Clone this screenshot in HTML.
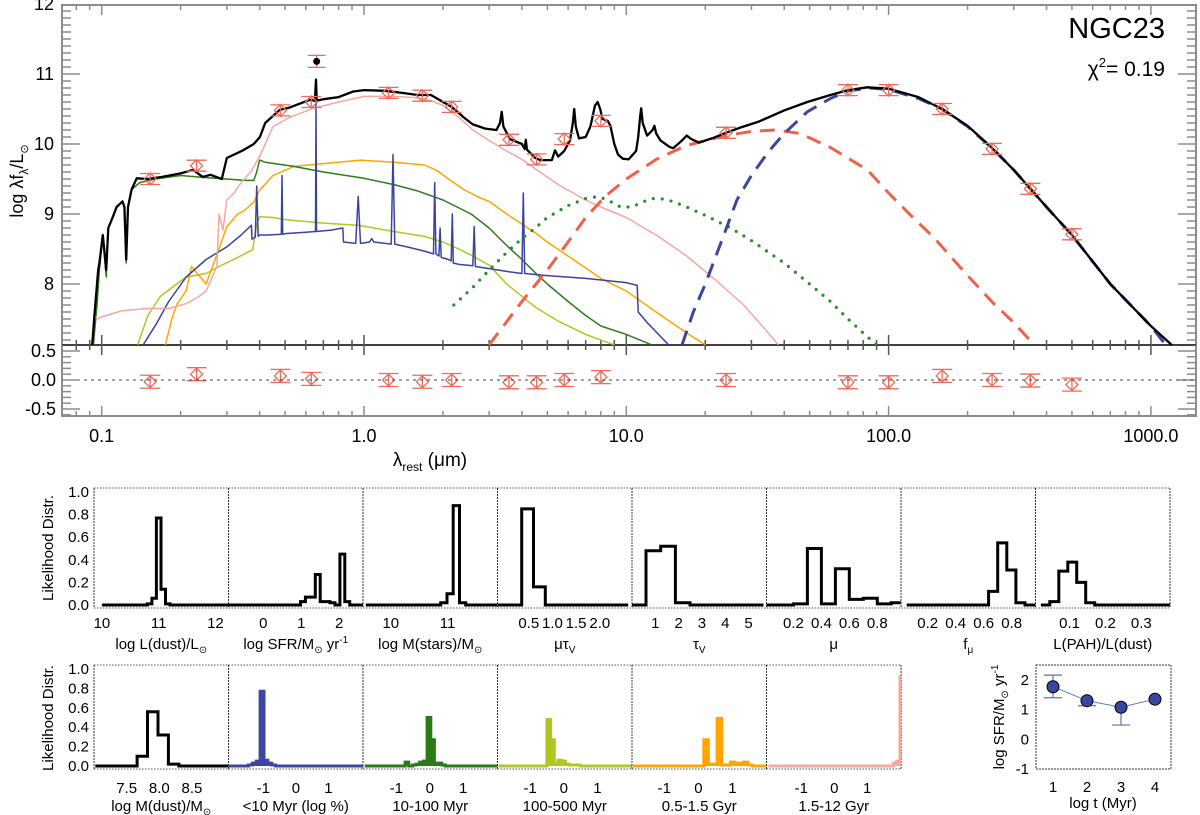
<!DOCTYPE html>
<html><head><meta charset="utf-8"><title>NGC23 SED fit</title>
<style>
html,body{margin:0;padding:0;background:#fff;}
svg{display:block;font-family:"Liberation Sans",Arial,sans-serif;}
</style></head>
<body>
<svg id="chart" xmlns="http://www.w3.org/2000/svg" width="1200" height="815" viewBox="0 0 1200 815">
  <defs>
    <clipPath id="mainClip"><rect x="62" y="5" width="1134" height="340"/></clipPath>
    <clipPath id="resClip"><rect x="62" y="345" width="1134" height="71"/></clipPath>
  </defs>
  <rect x="0" y="0" width="1200" height="815" fill="#fff"/>
  <g id="sedPanel"></g>
  <g id="resPanel"></g>
  <g id="histPanels"></g>
  <g id="sfhPanel"></g>

  <text x="1165" y="38" font-size="29" text-anchor="end">NGC23</text>
  <text x="1165" y="76" font-size="21" text-anchor="end">χ<tspan font-size="13" dy="-9">2</tspan><tspan dy="9">= 0.19</tspan></text>
  <text transform="translate(23,181) rotate(-90)" font-size="18" text-anchor="middle">log λf<tspan font-size="12" dy="5">λ</tspan><tspan dy="-5">/L</tspan><tspan font-size="11" dy="5">⊙</tspan></text>
  <text x="430" y="466" font-size="19" text-anchor="middle">λ<tspan font-size="12" dy="5">rest</tspan><tspan dy="-5"> (μm)</tspan></text>
  <text transform="translate(53,548) rotate(-90)" font-size="15" text-anchor="middle">Likelihood Distr.</text>
  <text transform="translate(53,718) rotate(-90)" font-size="15" text-anchor="middle">Likelihood Distr.</text>
  <text transform="translate(1004,717) rotate(-90)" font-size="15" text-anchor="middle">log SFR/M<tspan font-size="10" dy="4">⊙</tspan><tspan dy="-4"> yr</tspan><tspan font-size="10" dy="-6">-1</tspan></text>
  <text x="1103" y="808" font-size="15" text-anchor="middle">log t (Myr)</text>
</svg>
<script>
// ===== SED data (wavelength in micron, log lambda*f_lambda / Lsun) =====
const totalWave=[0.092,0.094,0.097,0.098,0.101,0.104,0.106,0.11,0.114,0.12,0.122,0.124,0.126,0.13,0.136,0.15,0.17,0.2,0.223,0.243,0.26,0.287,0.3,0.346,0.38,0.401,0.42,0.478,0.52,0.62,0.65,0.656,0.66,0.7,0.8,0.91,1.0,1.2,1.4,1.6,1.8,2.0,2.16,2.4,2.6,2.9,3.2,3.3,3.35,3.4,3.6,4.0,4.1,4.14,4.18,4.5,4.7,5.2,5.35,5.5,5.8,6.1,6.25,6.33,6.42,6.6,7.0,7.3,7.6,7.77,7.95,8.1,8.5,8.7,9.0,9.3,9.7,10.2,10.9,11.1,11.3,11.4,11.55,12.0,12.6,12.8,13.0,13.5,14.6,15.1,16.3,17.0,17.7,18.9,21.2,24,27,32,40,49,60,70,83,100,130,160,200,250,300,400,500,700,1000,1200];
const totalFlux=[7.13,7.6,8.2,8.3,8.7,8.2,8.8,8.95,9.1,9.18,9.1,8.35,9.1,9.35,9.51,9.5,9.53,9.58,9.63,9.53,9.56,9.5,9.8,9.91,10.0,10.1,10.3,10.49,10.52,10.63,10.62,10.92,10.62,10.64,10.67,10.75,10.77,10.76,10.73,10.7,10.7,10.6,10.53,10.38,10.28,10.22,10.2,10.3,10.46,10.25,10.07,10.0,9.93,10.06,9.92,9.8,9.77,9.77,9.91,9.82,9.9,10.05,10.3,10.5,10.25,10.08,10.1,10.25,10.55,10.6,10.5,10.36,10.33,10.26,10.0,9.85,9.79,9.78,9.9,10.1,10.4,10.51,10.3,10.12,10.2,10.26,10.15,10.05,9.96,9.94,10.05,10.12,10.07,10.02,10.08,10.16,10.23,10.32,10.48,10.6,10.7,10.77,10.81,10.79,10.67,10.5,10.26,9.93,9.63,9.1,8.7,8.0,7.4,7.13];
const attenStarWave=[0.092,0.094,0.096,0.1,0.12,0.15,0.18,0.21,0.23,0.25,0.275,0.28,0.29,0.3,0.32,0.34,0.37,0.4,0.45,0.52,0.64,0.8,1.0,1.3,1.6,1.8,2.0,2.3,2.6,3.0,3.5,4.0,4.56,5.5,7.0,8.0,10,13,17,22,28,33,38];
const attenStarFlux=[7.13,7.55,7.5,7.53,7.62,7.65,7.65,7.72,7.8,7.9,8.25,9.0,8.77,9.2,9.3,9.45,9.6,9.82,10.25,10.38,10.51,10.6,10.68,10.68,10.66,10.62,10.55,10.38,10.2,10.05,9.9,9.78,9.63,9.42,9.2,9.1,8.95,8.7,8.4,8.05,7.7,7.4,7.13];
const oldStarWave=[0.093,0.096,0.098,0.101,0.104,0.106,0.11,0.114,0.12,0.122,0.124,0.126,0.13,0.14,0.16,0.2,0.25,0.3,0.35,0.38,0.39,0.4,0.42,0.54,0.7,1.0,1.3,1.6,2.0,2.56,3.0,3.5,4.0,4.5,5,6,7,8,10,12.5];
const oldStarFlux=[7.13,7.7,8.2,8.7,8.1,8.8,8.95,9.1,9.18,9.1,8.3,9.1,9.35,9.45,9.5,9.55,9.52,9.5,9.48,9.48,9.6,9.77,9.74,9.68,9.6,9.51,9.42,9.33,9.2,9.0,8.8,8.55,8.35,8.16,8.0,7.75,7.55,7.4,7.28,7.13];
const midStarWave=[0.175,0.185,0.194,0.21,0.22,0.25,0.28,0.3,0.33,0.35,0.38,0.4,0.45,0.54,0.7,0.97,1.3,1.7,1.9,2.1,2.4,2.7,3.0,3.5,4.5,5,6,8,10,13,17,20];
const midStarFlux=[7.13,7.5,7.72,7.9,8.25,8.0,8.5,8.82,9.0,9.05,9.17,9.34,9.55,9.68,9.72,9.77,9.74,9.7,9.62,9.5,9.35,9.25,9.18,9.0,8.73,8.6,8.4,8.08,7.9,7.6,7.3,7.13];
const interStarWave=[0.137,0.15,0.167,0.19,0.21,0.25,0.28,0.33,0.376,0.39,0.4,0.45,0.5,0.7,0.95,1.3,1.7,2.0,2.3,2.6,3.0,3.5,4.5,5.5,7,9];
const interStarFlux=[7.13,7.55,7.82,7.98,8.1,8.15,8.25,8.38,8.49,8.85,8.96,8.95,8.92,8.87,8.84,8.75,8.68,8.6,8.5,8.4,8.27,8.0,7.67,7.47,7.28,7.13];
const youngStarWave=[0.144,0.162,0.18,0.21,0.25,0.3,0.34,0.372,0.374,0.385,0.39,0.395,0.4,0.43,0.484,0.487,0.49,0.5,0.6,0.653,0.656,0.659,0.75,0.83,0.835,0.93,0.95,0.97,1.05,1.07,1.09,1.27,1.29,1.31,1.5,1.7,1.84,1.86,1.88,1.93,1.95,1.97,2.1,2.15,2.17,2.19,2.3,2.6,2.63,2.66,3.0,3.5,4.0,4.05,4.1,5,7,10,11,11.1,12,14.5];
const youngStarFlux=[7.13,7.44,7.75,8.1,8.35,8.53,8.7,8.84,8.64,8.67,9.4,8.68,8.7,8.7,8.71,9.55,8.71,8.72,8.74,8.75,10.6,8.75,8.77,8.8,8.6,8.58,9.25,8.58,8.6,8.65,8.6,8.57,9.85,8.57,8.52,8.47,8.43,9.45,8.43,8.4,8.8,8.38,8.35,8.33,9.0,8.3,8.28,8.26,8.82,8.25,8.22,8.18,8.15,9.3,8.15,8.12,8.08,8.02,7.98,7.6,7.45,7.13];
const pahWave=[2.2,2.6,3,3.5,4,4.5,5,6,7,7.8,8.5,9.5,10.5,11.5,12.5,13.5,15,17,20,25,30,40,50,60,70,80,90];
const pahFlux=[7.7,7.95,8.2,8.45,8.65,8.8,8.95,9.12,9.22,9.25,9.2,9.1,9.1,9.17,9.22,9.22,9.18,9.1,8.98,8.8,8.62,8.3,8.0,7.75,7.5,7.3,7.13];
const warmDustWave=[3.0,4,5,6,7,8.3,10,13,17,24,30,37,46,60,83,100,120,150,200,250,300,345,360];
const warmDustFlux=[7.13,7.75,8.2,8.6,8.95,9.25,9.5,9.78,9.98,10.12,10.18,10.2,10.15,9.95,9.63,9.3,9.0,8.65,8.12,7.73,7.45,7.2,7.13];
const coldDustWave=[16.3,18,20,23,26.4,30,35,40,49,60,70,85,100,130,160,200,250,300,400,500,700,1000,1140];
const coldDustFlux=[7.13,7.6,8.0,8.6,9.2,9.55,9.9,10.15,10.46,10.65,10.76,10.8,10.78,10.65,10.5,10.25,9.93,9.63,9.1,8.7,8.0,7.4,7.13];
// photometry
const obsWave=[0.153,0.23,0.48,0.63,1.24,1.67,2.16,3.57,4.55,5.8,8.0,24.0,70,100,160,248,347,500];
const obsFlux=[9.50,9.69,10.48,10.60,10.73,10.69,10.53,10.06,9.78,10.07,10.33,10.16,10.77,10.77,10.50,9.93,9.36,8.71];
const obsResid=[-0.03,0.10,0.07,0.02,0.0,-0.03,0.0,-0.04,-0.04,0.0,0.05,0.0,-0.04,-0.04,0.07,0.0,-0.01,-0.08];
const excludedWave=[0.66];
const excludedFlux=[11.18];
// axis ticks
const sedYTicks=[8,9,10,11,12];
const sedYLabels=["8","9","10","11","12"];
const resYTicks=[-0.5,0,0.5];
const resYLabels=["-0.5","0.0","0.5"];
const sedXTicks=[0.1,1,10,100,1000];
const sedXLabels=["0.1","1.0","10.0","100.0","1000.0"];

// ===== Likelihood histograms =====
const ldustValues=[0,0,0,0,0,0,0,0,0,0,0.01,0.06,0.77,0.14,0.01,0,0,0,0,0,0,0,0,0,0,0,0,0];
const sfrValues=[0,0,0,0,0,0,0,0,0,0,0,0,0,0,0,0.03,0.07,0.07,0.27,0.03,0.03,0.02,0,0.45,0.03,0,0,0];
const mstarValues=[0,0,0,0,0,0,0,0,0,0,0,0,0.02,0.1,0.88,0.02,0,0,0,0,0,0];
const mutauValues=[0,0,0.85,0.16,0,0,0,0,0,0,0];
const tauValues=[0,0.48,0.52,0.02,0,0,0,0,0];
const muValues=[0,0,0.01,0.5,0.01,0.32,0.05,0.06,0.01,0.02];
const fmuValues=[0,0,0,0,0,0,0,0,0,0.12,0.55,0.31,0.02,0,0];
const pahfracValues=[0,0.03,0.3,0.38,0.2,0.02,0,0,0,0,0,0,0,0,0];
const mdustValues=[0,0,0,0,0.1,0.56,0.32,0.02,0,0,0,0,0,0];
const age1Values=[0,0,0,0,0,0.01,0.03,0.05,0.77,0.06,0.03,0.01,0,0,0,0,0,0,0,0,0,0,0,0,0,0,0,0,0,0,0,0,0,0,0];
const age2Values=[0,0,0,0,0,0,0,0,0,0,0,0.04,0,0.01,0.02,0.04,0.05,0.5,0.27,0.03,0.03,0.01,0,0,0,0,0,0,0,0,0,0,0,0,0,0,0];
const age3Values=[0,0,0,0,0,0,0,0,0,0,0,0,0,0.48,0.27,0.03,0.06,0.05,0.02,0.01,0.01,0.01,0,0,0,0,0,0,0,0,0,0,0,0,0,0,0];
const age4Values=[0,0,0,0,0,0,0,0,0,0,0,0,0,0,0,0,0.27,0.02,0.02,0.49,0.01,0.01,0.04,0.03,0.03,0.04,0.01,0,0,0,0];
const age5Values=[0,0,0,0,0,0,0,0,0,0,0,0,0,0,0,0,0,0,0,0,0,0,0,0,0,0,0,0,0,0,0,0,0,0,0,0,0,0,0.03,0.05,0.92];
const histBinStart=[10.0,-0.97,9.56,-0.15,-0.03,0.0,0.05,0.02,7.02,-2.06,-1.95,-1.93,-1.92,-2.0];
const histBinWidth=[0.08,0.13,0.11,0.25,0.63,0.1,0.065,0.025,0.16,0.12,0.11,0.11,0.13,0.1];
const histTickVals=[[10,11,12],[0,1,2],[10,11],[0.5,1.0,1.5,2.0],[1,2,3,4,5],[0.2,0.4,0.6,0.8],[0.2,0.4,0.6,0.8],[0.1,0.2,0.3],[7.5,8.0,8.5],[-1,0,1],[-1,0,1],[-1,0,1],[-1,0,1],[-1,0,1]];
const histTickLabels=[["10","11","12"],["0","1","2"],["10","11"],["0.5","1.0","1.5","2.0"],["1","2","3","4","5"],["0.2","0.4","0.6","0.8"],["0.2","0.4","0.6","0.8"],["0.1","0.2","0.3"],["7.5","8.0","8.5"],["-1","0","1"],["-1","0","1"],["-1","0","1"],["-1","0","1"],["-1","0","1"]];
const likeTicks=[0,0.2,0.4,0.6,0.8,1.0];
const likeLabels=["0.0","0.2","0.4","0.6","0.8","1.0"];

// ===== SFH inset =====
const sfhLogT=[1,2,3,4];
const sfhLogSFR=[1.77,1.3,1.08,1.35];
const sfhErrLow=[1.4,1.13,0.48,1.35];
const sfhErrHigh=[2.16,1.3,1.08,1.35];
const sfhYTicks=[-1,0,1,2];
const sfhYLabels=["-1","0","1","2"];
const sfhXTicks=[1,2,3,4];
const sfhXLabels=["1","2","3","4"];

const NS="http://www.w3.org/2000/svg";
function mk(parent,tag,attrs){const e=document.createElementNS(NS,tag);for(const k in attrs)e.setAttribute(k,attrs[k]);parent.appendChild(e);return e;}
const X=l=>364+262.3*Math.log10(l);
const Y=v=>4+70*(12-v);
const YR=r=>380-58*r;

const sed=document.getElementById('sedPanel');
const res=document.getElementById('resPanel');

// --- frames & ticks ---
const frameCol="#8c8c8c";
let fr=mk(sed,'path',{d:'M62,345 V5 H1196 V345',fill:'none',stroke:frameCol,'stroke-width':2});


let mid=mk(sed,'line',{x1:62,y1:345,x2:1196,y2:345,stroke:'#000','stroke-width':1.5});


let rf=mk(res,'path',{d:'M62,345 V416 H1196 V345',fill:'none',stroke:frameCol,'stroke-width':2});



const tickG=mk(sed,'g',{stroke:frameCol,'stroke-width':1.5});


for(let d=-2;d<=3;d++){for(let m=1;m<=9;m++){const l=m*Math.pow(10,d);const x=X(l);if(x<63||x>1195)continue;const L=(m===1)?10:5;
  mk(tickG,'line',{x1:x,y1:5,x2:x,y2:5+L});mk(tickG,'line',{x1:x,y1:345,x2:x,y2:345-L,stroke:'#555'});mk(tickG,'line',{x1:x,y1:345,x2:x,y2:345+L,stroke:'#555'});mk(tickG,'line',{x1:x,y1:416,x2:x,y2:416-L});}}
for(let i=72;i<=120;i++){const v=i/10;const y=Y(v);if(y<6||y>344)continue;const L=(i%10===0)?18:9;
  mk(tickG,'line',{x1:62,y1:y,x2:62+L,y2:y});mk(tickG,'line',{x1:1196,y1:y,x2:1196-L,y2:y});}
for(let i=-6;i<=5;i++){const v=i/10;const y=YR(v);if(y<346||y>415)continue;const L=(i%5===0)?18:9;
  mk(tickG,'line',{x1:62,y1:y,x2:62+L,y2:y});mk(tickG,'line',{x1:1196,y1:y,x2:1196-L,y2:y});}

sedYTicks.forEach((v,i)=>{const t=mk(sed,'text',{x:54,y:Y(v)+6,'font-size':18,'text-anchor':'end'});t.textContent=sedYLabels[i];

});
resYTicks.forEach((v,i)=>{const t=mk(res,'text',{x:56,y:YR(v)+6,'font-size':18,'text-anchor':'end'});t.textContent=resYLabels[i];

});
sedXTicks.forEach((v,i)=>{const t=mk(res,'text',{x:X(v),y:442,'font-size':18,'text-anchor':'middle'});t.textContent=sedXLabels[i];

});

// --- curves ---
const curveG=mk(sed,'g',{'clip-path':'url(#mainClip)',fill:'none','stroke-linejoin':'round'});


function curve(w,f,attrs){return mk(curveG,'path',Object.assign({d:w.map((l,i)=>(i?'L':'M')+X(l).toFixed(1)+','+Y(f[i]).toFixed(1)).join(' ')},attrs));}
let c;
c=curve(interStarWave,interStarFlux,{stroke:'#b0c81e','stroke-width':1.5});


c=curve(midStarWave,midStarFlux,{stroke:'#ffa500','stroke-width':1.5});


c=curve(oldStarWave,oldStarFlux,{stroke:'#2e7d1a','stroke-width':1.5});


c=curve(youngStarWave,youngStarFlux,{stroke:'#3a44a0','stroke-width':1.5});


c=curve(attenStarWave,attenStarFlux,{stroke:'#f4a8a0','stroke-width':1.5});


c=curve(pahWave,pahFlux,{stroke:'#2e8b2e','stroke-width':3.2,'stroke-dasharray':'0,9','stroke-linecap':'round'});


c=curve(warmDustWave,warmDustFlux,{stroke:'#f0604a','stroke-width':3,'stroke-dasharray':'15,9'});


c=curve(coldDustWave,coldDustFlux,{stroke:'#3c46a0','stroke-width':3,'stroke-dasharray':'15,9'});


c=curve(totalWave,totalFlux,{stroke:'#000','stroke-width':2.3});



// --- photometric points ---
const ptCol="#ee6a5a";
function errPt(g,x,y,e,name){const p=mk(g,'g',{stroke:ptCol,'stroke-width':1.3,fill:'none'});


mk(p,'line',{x1:x,y1:y-e,x2:x,y2:y+e});mk(p,'line',{x1:x-10,y1:y-e,x2:x+10,y2:y-e});mk(p,'line',{x1:x-10,y1:y+e,x2:x+10,y2:y+e});
mk(p,'path',{d:`M${x},${y-6} L${x+6},${y} L${x},${y+6} L${x-6},${y} Z`});}
obsWave.forEach((l,i)=>{errPt(sed,X(l),Y(obsFlux[i]),5.5,'photometry-point');errPt(res,X(l),YR(obsResid[i]),6.5,'residual-point');});
excludedWave.forEach((l,i)=>{const x=X(l),y=Y(excludedFlux[i]);const p=mk(sed,'g',{stroke:ptCol,'stroke-width':1.3});


mk(p,'line',{x1:x,y1:y-6,x2:x,y2:y+6});mk(p,'line',{x1:x-9,y1:y-6,x2:x+9,y2:y-6});mk(p,'line',{x1:x-9,y1:y+6,x2:x+9,y2:y+6});
mk(p,'circle',{cx:x,cy:y,r:3.5,fill:'#000',stroke:'none'});});
let zl=mk(res,'line',{x1:84,y1:YR(0),x2:1196,y2:YR(0),stroke:'#444','stroke-width':1,'stroke-dasharray':'3,4'});



// ===== histograms =====
const hg=document.getElementById('histPanels');
const histValues=[ldustValues,sfrValues,mstarValues,mutauValues,tauValues,muValues,fmuValues,pahfracValues,mdustValues,age1Values,age2Values,age3Values,age4Values,age5Values];
const histDomains=[[9.86,12.23],[-0.92,2.63],[9.51,11.88],[-0.16,2.68],[0.0,5.77],[0.007,0.97],[0.009,0.97],[0.005,0.38],[7.0,9.06],[-2.07,2.06],[-2.0,2.03],[-1.97,2.03],[-1.95,2.0],[-2.06,2.03]];
const histColors=['#000','#000','#000','#000','#000','#000','#000','#000','#000','#3c46a0','#2a7a16','#b0c81e','#ffa500','#f4a8a0'];
const histNames=['ldust-hist','sfr-hist','mstars-hist','mutau-hist','tau-hist','mu-hist','fmu-hist','pah-fraction-hist','mdust-hist','age-under-10myr-hist','age-10-100myr-hist','age-100-500myr-hist','age-0.5-1.5gyr-hist','age-1.5-12gyr-hist'];
const histTitles=['log L(dust)/L<tspan font-size="10" dy="4">⊙</tspan>','log SFR/M<tspan font-size="10" dy="4">⊙</tspan><tspan dy="-4"> yr</tspan><tspan font-size="10" dy="-6">-1</tspan>','log M(stars)/M<tspan font-size="10" dy="4">⊙</tspan>','μτ<tspan font-size="10" dy="4">V</tspan>','τ<tspan font-size="10" dy="4">V</tspan>','μ','f<tspan font-size="10" dy="4">μ</tspan>','L(PAH)/L(dust)','log M(dust)/M<tspan font-size="10" dy="4">⊙</tspan>','&lt;10 Myr (log %)','10-100 Myr','100-500 Myr','0.5-1.5 Gyr','1.5-12 Gyr'];
const PW=134.5;
for(let p=0;p<14;p++){
  const row=p<8?0:1, col=p<8?p:p-8;
  const left=94+col*PW, right=left+PW;
  const top=row?665:488, bot=row?769:608;
  const y0=row?766:605, sc=row?97:113;
  const [a,b]=histDomains[p];
  const xs=v=>left+(v-a)/(b-a)*PW;
  const ys=v=>y0-sc*v;
  const g=mk(hg,'g',{});
  
  
  const cid='hc'+p;
  const cp=mk(g,'clipPath',{id:cid});mk(cp,'rect',{x:left,y:top,width:PW,height:bot-top});
  // frame
  mk(g,'line',{x1:left,y1:top,x2:right,y2:top,stroke:'#555','stroke-width':1,'stroke-dasharray':'1.5,1.5'});
  mk(g,'line',{x1:right,y1:top,x2:right,y2:bot,stroke:'#333','stroke-width':1,'stroke-dasharray':'2,1'});
  mk(g,'line',{x1:left,y1:bot,x2:right,y2:bot,stroke:'#555','stroke-width':1,'stroke-dasharray':'1.5,1.5'});
  mk(g,'line',{x1:left,y1:top,x2:left,y2:bot,stroke:'#333','stroke-width':1,'stroke-dasharray':'2,1'});
  if(col===0){likeTicks.forEach((v,i)=>{const t=mk(g,'text',{x:left-5,y:ys(v)+5,'font-size':15,'text-anchor':'end'});t.textContent=likeLabels[i];
    
    });}
  histTickVals[p].forEach((v,i)=>{const t=mk(g,'text',{x:xs(v),y:row?793:628,'font-size':15,'text-anchor':'middle'});t.textContent=histTickLabels[p][i];
    
    });
  const tt=mk(g,'text',{x:(left+right)/2,y:row?811:649,'font-size':15,'text-anchor':'middle'});tt.innerHTML=histTitles[p];
  
  
  // step path
  const vals=histValues[p], s=histBinStart[p], w=histBinWidth[p];
  let d='M'+xs(s).toFixed(1)+','+ys(vals[0]).toFixed(1);
  for(let k=0;k<vals.length;k++){const x1=xs(s+(k+1)*w);d+=' H'+x1.toFixed(1);if(k+1<vals.length)d+=' V'+ys(vals[k+1]).toFixed(1);}
  const colr=histColors[p];
  if(colr!=='#000'){
    const fd=d+' V'+ys(0).toFixed(1)+' H'+xs(s).toFixed(1)+' Z';
    const f=mk(g,'path',{d:fd,fill:colr,stroke:'none','clip-path':`url(#${cid})`});
    
    
  }
  const h=mk(g,'path',{d:d,fill:'none',stroke:colr,'stroke-width':3,'clip-path':`url(#${cid})`});
  
  
}

// ===== SFH inset =====
const sg=document.getElementById('sfhPanel');
const SX=t=>1053+34*(t-1);
const SY=v=>769-29.7*(v+1);
let sfr=mk(sg,'rect',{x:1036,y:665,width:135,height:104,fill:'none',stroke:'#333','stroke-width':1,'stroke-dasharray':'2,1'});


sfhYTicks.forEach((v,i)=>{const t=mk(sg,'text',{x:1029,y:SY(v)+5,'font-size':15,'text-anchor':'end'});t.textContent=sfhYLabels[i];

});
sfhXTicks.forEach((v,i)=>{const t=mk(sg,'text',{x:SX(v),y:792,'font-size':15,'text-anchor':'middle'});t.textContent=sfhXLabels[i];

});
let sl=mk(sg,'path',{d:sfhLogT.map((t,i)=>(i?'L':'M')+SX(t)+','+SY(sfhLogSFR[i]).toFixed(1)).join(' '),fill:'none',stroke:'#6670c0','stroke-width':1});


sfhLogT.forEach((t,i)=>{const x=SX(t);const e=mk(sg,'g',{stroke:'#6670a8','stroke-width':1.2});


mk(e,'line',{x1:x,y1:SY(sfhErrLow[i]),x2:x,y2:SY(sfhErrHigh[i])});
if(sfhErrLow[i]<sfhLogSFR[i])mk(e,'line',{x1:x-9,y1:SY(sfhErrLow[i]),x2:x+9,y2:SY(sfhErrLow[i])});
if(sfhErrHigh[i]>sfhLogSFR[i])mk(e,'line',{x1:x-9,y1:SY(sfhErrHigh[i]),x2:x+9,y2:SY(sfhErrHigh[i])});
const cc=mk(sg,'circle',{cx:x,cy:SY(sfhLogSFR[i]),r:6,fill:'#3c46a0',stroke:'#000','stroke-width':1});

});
</script>
</body></html>
